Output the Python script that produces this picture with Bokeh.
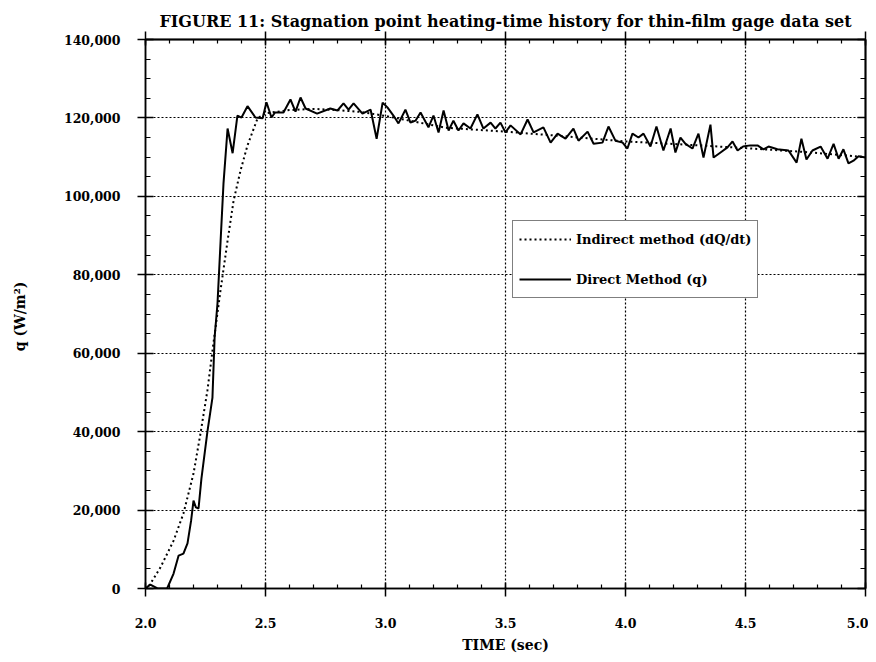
import numpy as np
from bokeh.plotting import figure
from bokeh.models import (Range1d, LinearAxis, SingleIntervalTicker, FixedTicker,
                          NumeralTickFormatter, Legend, LegendItem, Grid)
from bokeh.embed import file_html
from bokeh.resources import INLINE

# ---- data ----
t_direct = [2.00, 2.02, 2.05, 2.09, 2.117, 2.138, 2.158, 2.175, 2.19, 2.20, 2.21, 2.221, 2.233,
            2.258, 2.279, 2.288, 2.30, 2.313, 2.325, 2.342, 2.363, 2.383, 2.40, 2.425, 2.458,
            2.488, 2.504, 2.525, 2.54, 2.575, 2.604, 2.625, 2.646, 2.667, 2.715, 2.77, 2.80,
            2.825, 2.846, 2.867, 2.904, 2.938, 2.963, 2.988, 3.008, 3.033, 3.054, 3.083, 3.104,
            3.125, 3.146, 3.179, 3.200, 3.221, 3.242, 3.263, 3.283, 3.304, 3.325, 3.354, 3.383,
            3.408, 3.438, 3.458, 3.479, 3.500, 3.521, 3.563, 3.592, 3.617, 3.658, 3.688, 3.717,
            3.750, 3.783, 3.804, 3.842, 3.867, 3.904, 3.929, 3.958, 3.988, 4.008, 4.029, 4.054,
            4.075, 4.104, 4.129, 4.158, 4.188, 4.208, 4.229, 4.250, 4.279, 4.304, 4.325, 4.354,
            4.367, 4.396, 4.425, 4.446, 4.467, 4.490, 4.520, 4.550, 4.575, 4.596, 4.633, 4.679,
            4.713, 4.733, 4.754, 4.779, 4.813, 4.842, 4.867, 4.888, 4.908, 4.929, 4.950, 4.971,
            5.000]
q_direct = [0, 1000, 0, 0, 3800, 8400, 8900, 11500, 17300, 22400, 20700, 20400, 28000,
            40000, 48700, 64000, 72700, 88700, 103300, 117300, 111000, 120600, 120100, 123000, 120100,
            119900, 124000, 120100, 121400, 121400, 124700, 121600, 125200, 122400, 121100, 122400, 121900,
            123700, 122100, 123700, 121100, 122100, 114700, 123900, 122700, 120600, 118600, 122100, 118800,
            119300, 121400, 117600, 120600, 116300, 121900, 116800, 119300, 116800, 118600, 117300, 120900,
            117300, 118800, 117300, 118800, 116300, 118100, 115800, 119600, 116300, 117600, 113700, 116000,
            114700, 117300, 114200, 116500, 113400, 113700, 117800, 114200, 113700, 112200, 116000, 115000,
            116000, 112700, 117800, 111700, 117300, 111200, 115000, 113400, 112200, 116000, 109900, 118300,
            109900, 111200, 112500, 114000, 111700, 112700, 113000, 113000, 112000, 112700, 112000, 111700,
            108600, 114700, 109400, 111700, 112700, 109600, 113400, 109600, 112000, 108400, 109100, 110200,
            109900]

t_indirect = [2.0, 2.008, 2.0625, 2.117, 2.158, 2.20, 2.229, 2.258, 2.283, 2.3125, 2.342, 2.367,
              2.396, 2.425, 2.467, 2.5, 2.6, 2.7, 2.8, 2.9, 3.0, 3.25, 3.5, 3.75, 4.0, 4.25,
              4.5, 4.75, 5.0]
q_indirect = [0, 0, 5400, 12200, 19100, 29300, 39500, 50500, 62500, 76000, 88700, 98900,
              106600, 113000, 119900, 121200, 122000, 122300, 122000, 121500, 120500, 117500,
              116500, 115300, 114000, 113200, 112300, 111300, 110000]

title_text = "FIGURE 11: Stagnation point heating-time history for thin-film gage data set"
x_label = "TIME (sec)"
y_label = "q  (W/m\u00b2)"
legend_labels = ["Indirect method (dQ/dt)", "Direct Method (q)"]

X_MIN, X_MAX, X_MAJOR, X_MINOR = 2.0, 5.0, 0.5, 0.1
Y_MIN, Y_MAX, Y_MAJOR, Y_MINOR = 0, 140000, 20000, 5000

FONT = "DejaVu Serif"

p = figure(frame_width=720, frame_height=549, output_backend="svg", toolbar_location=None,
           x_range=Range1d(X_MIN, X_MAX), y_range=Range1d(Y_MIN, Y_MAX),
           min_border_left=145, min_border_right=3, min_border_top=39, min_border_bottom=66,
           x_axis_type=None, y_axis_type=None)
p.background_fill_color = "white"
p.border_fill_color = "white"
p.outline_line_color = "black"
p.outline_line_width = 1.5

xt = SingleIntervalTicker(interval=X_MAJOR, num_minor_ticks=5)
yt = SingleIntervalTicker(interval=Y_MAJOR, num_minor_ticks=4)

x_major_pos = list(np.round(np.arange(X_MIN, X_MAX + 1e-9, X_MAJOR), 3))
x_minor_pos = list(np.round(np.arange(X_MIN, X_MAX + 1e-9, X_MINOR), 3))
y_major_pos = list(np.arange(Y_MIN, Y_MAX + 1, Y_MAJOR))
y_minor_pos = list(np.arange(Y_MIN, Y_MAX + 1, Y_MINOR))

xb = LinearAxis(ticker=xt, formatter=NumeralTickFormatter(format="0.0"), axis_label=x_label)
yl = LinearAxis(ticker=yt, formatter=NumeralTickFormatter(format="0,0"), axis_label=y_label)
# unlabeled tick axes for the top and right edges (ticks only)
xa_minor = LinearAxis(ticker=FixedTicker(ticks=[], minor_ticks=x_minor_pos))
xa_major = LinearAxis(ticker=FixedTicker(ticks=[], minor_ticks=x_major_pos))
yr_minor = LinearAxis(ticker=FixedTicker(ticks=[], minor_ticks=y_minor_pos))
yr_major = LinearAxis(ticker=FixedTicker(ticks=[], minor_ticks=y_major_pos))

for ax in (xb, yl, xa_minor, xa_major, yr_minor, yr_major):
    ax.axis_line_color = "black"
    ax.axis_line_width = 1.5
    ax.major_tick_line_color = "black"
    ax.major_tick_line_width = 1.5
    ax.minor_tick_line_color = "black"
    ax.minor_tick_line_width = 1.2
    ax.major_label_text_font = FONT
    ax.major_label_text_font_style = "bold"
    ax.major_label_text_font_size = "12.5px"
    ax.major_label_text_color = "black"
    ax.axis_label_text_font = FONT
    ax.axis_label_text_font_style = "bold"
    ax.axis_label_text_color = "black"

xb.major_tick_in = 6
xb.major_tick_out = 8
xb.minor_tick_in = 4
xb.minor_tick_out = 0
xb.major_label_standoff = 21
xb.axis_label_standoff = 6
xb.axis_label_text_font_size = "14px"

yl.major_tick_in = 8
yl.major_tick_out = 8
yl.minor_tick_in = 5
yl.minor_tick_out = 0
yl.major_label_standoff = 17
yl.axis_label_standoff = 33
yl.axis_label_text_font_size = "14px"

xa_minor.minor_tick_in = 4
xa_minor.minor_tick_out = 0
xa_major.minor_tick_line_width = 1.5
xa_major.minor_tick_in = 6
xa_major.minor_tick_out = 8
yr_minor.minor_tick_in = 5
yr_minor.minor_tick_out = 0
yr_major.minor_tick_line_width = 1.5
yr_major.minor_tick_in = 8
yr_major.minor_tick_out = 0

p.add_layout(xb, "below")
p.add_layout(yl, "left")
p.add_layout(xa_minor, "above")
p.add_layout(xa_major, "above")
p.add_layout(yr_minor, "right")
p.add_layout(yr_major, "right")

for dim, tk in ((0, xt), (1, yt)):
    g = Grid(dimension=dim, ticker=tk, grid_line_color="black", grid_line_dash="2 2",
             grid_line_width=1.2)
    p.add_layout(g, "center")

p.title.text = title_text
p.title.align = "center"
p.title.text_font = FONT
p.title.text_font_style = "bold"
p.title.text_font_size = "16px"
p.title.text_color = "black"
p.title.standoff = 1

r_ind = p.line(t_indirect, q_indirect, line_color="black", line_width=2, line_dash="2 3")
r_dir = p.line(t_direct, q_direct, line_color="black", line_width=2)

legend = Legend(items=[LegendItem(label=legend_labels[0], renderers=[r_ind]),
                       LegendItem(label=legend_labels[1], renderers=[r_dir])],
                location=(367, 290))
legend.border_line_color = "black"
legend.border_line_width = 1.5
legend.background_fill_color = "white"
legend.background_fill_alpha = 1
legend.label_text_font = FONT
legend.label_text_font_style = "bold"
legend.label_text_font_size = "13px"
legend.label_text_color = "black"
legend.glyph_width = 52
legend.glyph_height = 24
legend.label_height = 24
legend.label_standoff = 5
legend.spacing = 16
legend.padding = 6
legend.margin = 0
p.add_layout(legend, "center")

open("out.html", "w").write(file_html(p, INLINE))
